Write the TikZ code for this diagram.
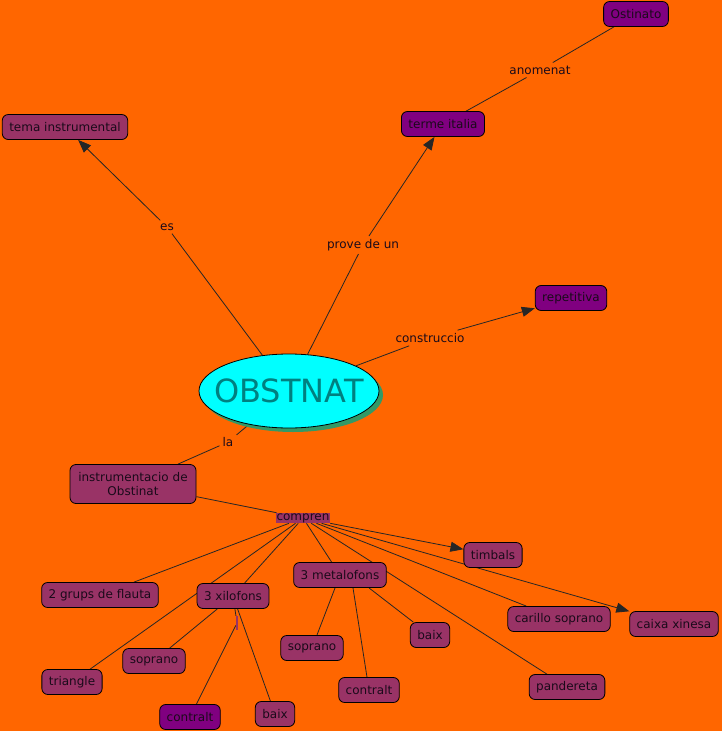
\documentclass[tikz,border=0pt]{standalone}
\usepackage{fontspec}
\setmainfont{DejaVu Sans}
\usetikzlibrary{arrows.meta,shapes.geometric,shadows,backgrounds}
\definecolor{bgor}{HTML}{FF6600}
\definecolor{mar}{HTML}{993366}
\definecolor{pur}{HTML}{800080}
\definecolor{shgreen}{HTML}{339966}
\definecolor{aqua}{HTML}{00FFFF}
\definecolor{tealtxt}{HTML}{008080}
\definecolor{txt}{HTML}{1A0A1A}
\begin{document}
\begin{tikzpicture}[x=1pt,y=-1pt,
  concept/.style={draw=black, line width=0.8pt, rounded corners=6pt, fill=mar,
    inner xsep=7pt, minimum height=25pt, font=\fontsize{12}{14}\selectfont, text=txt},
  pconcept/.style={concept, fill=pur},
  lab/.style={font=\fontsize{12}{14}\selectfont, text=txt, inner sep=3pt},
  conn/.style={line width=0.8pt, draw=black!85},
  arr/.style={conn, -{Triangle[length=13pt,width=10pt]}}]
\useasboundingbox (0,0) rectangle (722,731);
% main concept
\node[ellipse, draw=black, line width=0.8pt, fill=aqua, minimum width=180pt, minimum height=74pt,
  inner sep=0pt, text=tealtxt, font=\fontsize{32}{36}\selectfont,
  general shadow={fill=shgreen, shadow xshift=4pt, shadow yshift=-4pt}] (obst) at (289,391) {\makebox[0pt]{OBSTNAT}};
% concepts
\node[pconcept] (ostin) at (636,14) {Ostinato};
\node[pconcept] (terme) at (443,124) {terme italia};
\node[concept] (tema) at (65,127) {tema instrumental};
\node[pconcept] (repet) at (571,298) {repetitiva};
\node[concept, align=center, minimum height=39pt, text width=112pt] (instr) at (133,484) {instrumentacio de\\Obstinat};
\node[concept] (timb) at (493,555) {timbals};
\node[concept] (grups) at (100,595) {2 grups de flauta};
\node[concept] (xilo) at (233,596) {3 xilofons};
\node[concept] (metal) at (340,575) {3 metalofons};
\node[concept] (carillo) at (559,619) {carillo soprano};
\node[concept] (caixa) at (674,624) {caixa xinesa};
\node[concept] (sopX) at (154,661) {soprano};
\node[concept] (tri) at (72,682) {triangle};
\node[pconcept] (contX) at (190,717) {contralt};
\node[concept] (baixX) at (275,714) {baix};
\node[concept] (sopM) at (312,648) {soprano};
\node[concept] (baixM) at (430,635) {baix};
\node[concept] (contM) at (369,690) {contralt};
\node[concept] (pand) at (567,687) {pandereta};
% linking phrases
\node[lab] (anom) at (540,70) {anomenat};
\node[lab] (es) at (167,227) {es};
\node[lab] (prove) at (363,245) {prove de un};
\node[lab] (constr) at (430,338) {construccio};
\node[lab] (la) at (228,442) {la};
\node[lab, fill=mar, inner xsep=1pt, inner ysep=0.5pt] (compren) at (303,518) {compren};
\node[fill=mar, inner sep=0pt, minimum width=2pt, minimum height=14pt] (bar) at (237,623) {};
% connectors
\begin{pgfonlayer}{background}
\fill[bgor] (0,0) rectangle (722,731);
\draw[conn] (obst) -- (es);
\draw[arr] (es) -- (tema);
\draw[conn] (obst) -- (prove);
\draw[arr] (prove) -- (terme);
\draw[conn] (obst) -- (constr);
\draw[arr] (constr) -- (repet);
\draw[conn] (terme) -- (anom);
\draw[conn] (anom) -- (ostin);
\draw[conn] (obst) -- (la);
\draw[conn] (la) -- (instr);
\draw[conn] (instr) -- (compren);
\draw[arr] (compren) -- (timb);
\draw[arr] (compren) -- (caixa);
\draw[conn] (compren) -- (grups);
\draw[conn] (compren) -- (tri);
\draw[conn] (compren) -- (xilo);
\draw[conn] (compren) -- (metal);
\draw[conn] (compren) -- (carillo);
\draw[conn] (compren) -- (pand);
\draw[conn] (xilo) -- (sopX);
\draw[conn] (xilo) -- (bar);
\draw[conn] (bar) -- (contX);
\draw[conn] (xilo) -- (baixX);
\draw[conn] (metal) -- (sopM);
\draw[conn] ([xshift=13pt]metal.south) -- (contM);
\draw[conn] ([xshift=29pt]metal.south) -- (baixM);
\end{pgfonlayer}
\end{tikzpicture}
\end{document}
